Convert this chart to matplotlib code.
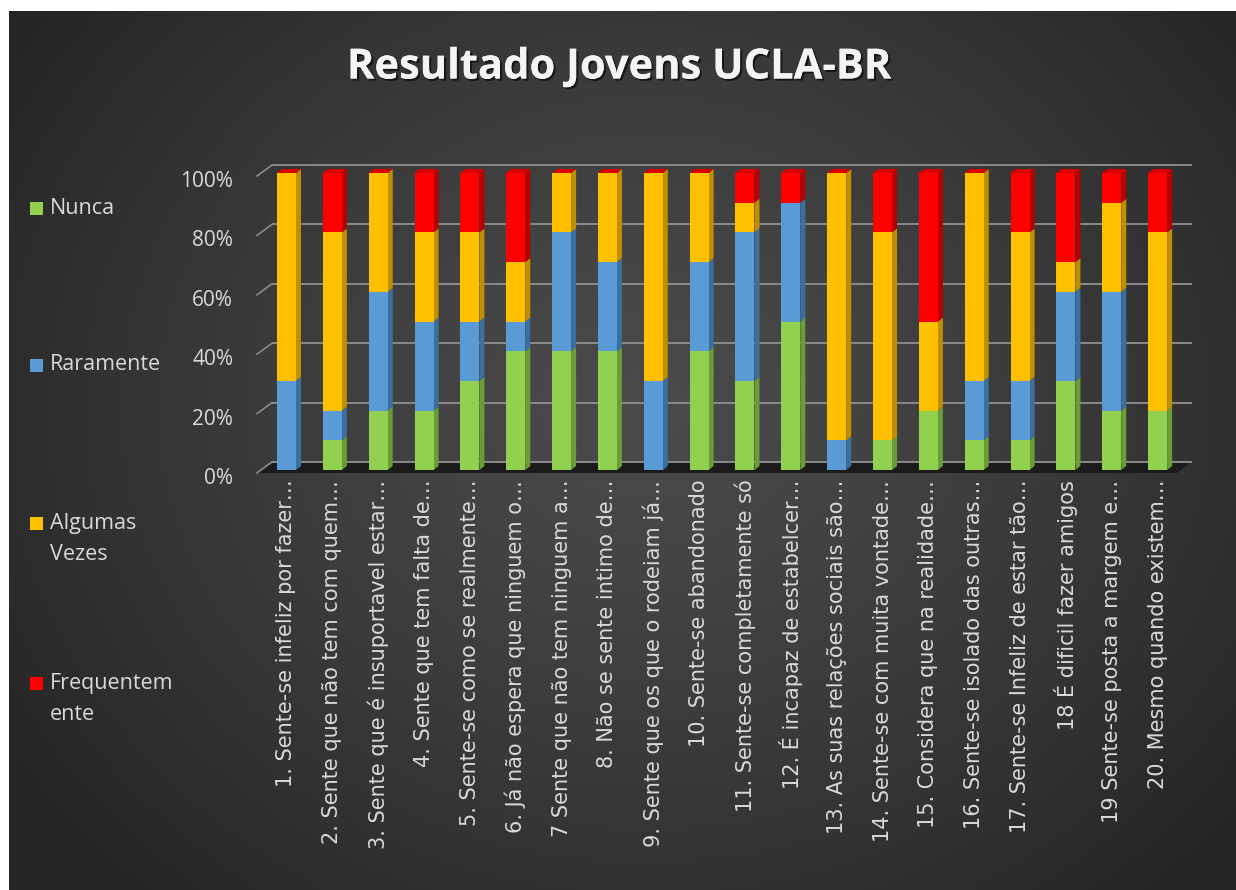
import numpy as np
import matplotlib
matplotlib.use("Agg")
import matplotlib.pyplot as plt
from matplotlib.patches import Polygon, Rectangle
import matplotlib.patheffects as pe
from matplotlib.transforms import ScaledTranslation

# ---------------- data ----------------
categories = [
    "1. Sente-se infeliz por fazer…",
    "2. Sente que não tem com quem…",
    "3. Sente que é insuportavel estar…",
    "4. Sente que tem falta de…",
    "5. Sente-se como se realmente…",
    "6. Já não espera que ninguem o…",
    "7 Sente que não tem ninguem a…",
    "8. Não se sente intimo de…",
    "9. Sente que os que o rodeiam já…",
    "10. Sente-se abandonado",
    "11. Sente-se completamente só",
    "12. É incapaz de estabelcer…",
    "13. As suas relações sociais são…",
    "14. Sente-se com muita vontade…",
    "15. Considera que na realidade…",
    "16. Sente-se isolado das outras…",
    "17. Sente-se Infeliz de estar tão…",
    "18 É dificil fazer amigos",
    "19 Sente-se posta a margem e…",
    "20. Mesmo quando existem…",
]
nunca          = [0, 10, 20, 20, 30, 40, 40, 40, 0, 40, 30, 50, 0, 10, 20, 10, 10, 30, 20, 20]
raramente      = [30, 10, 40, 30, 20, 10, 40, 30, 30, 30, 50, 40, 10, 0, 0, 20, 20, 30, 40, 0]
algumas_vezes  = [70, 60, 40, 30, 30, 20, 20, 30, 70, 30, 10, 0, 90, 70, 30, 70, 50, 10, 30, 60]
frequentemente = [0, 20, 0, 20, 20, 30, 0, 0, 0, 0, 10, 10, 0, 20, 50, 0, 20, 30, 10, 20]
series_names = ["Nunca", "Raramente", "Algumas\nVezes", "Frequentem\nente"]
y_ticks = [0, 20, 40, 60, 80, 100]
y_tick_labels = ["0%", "20%", "40%", "60%", "80%", "100%"]
title = "Resultado Jovens UCLA-BR"

series = [nunca, raramente, algumas_vezes, frequentemente]
front_colors = ["#92d050", "#5b9bd5", "#ffc000", "#ff0000"]
side_colors = ["#6a9c37", "#3b6fa0", "#c08f00", "#b80000"]
top_color = "#d80000"
text_color = "#d9d9d9"
grid_color = "#8a8a8a"

plt.rcParams['font.family'] = ['Open Sans', 'DejaVu Sans']

W, H = 1236, 890
fig = plt.figure(figsize=(W / 100, H / 100), dpi=100)
fig.patch.set_facecolor("white")

# ---------------- background panel ----------------
bg = fig.add_axes([9 / W, 0, (W - 9) / W, (H - 11) / H])
bg.set_axis_off()
yy, xx = np.mgrid[0:1:300j, 0:1:400j]
d = np.sqrt(((xx - 0.52) / 0.62) ** 2 + ((yy - 0.45) / 0.75) ** 2)
d = np.clip(d, 0, 1)
c_in = np.array([0x4a, 0x4a, 0x4a]) / 255
c_out = np.array([0x25, 0x25, 0x25]) / 255
img = c_in[None, None, :] * (1 - d[..., None] ** 1.3) + c_out[None, None, :] * (d[..., None] ** 1.3)
bg.imshow(img, extent=[0, 1, 0, 1], aspect="auto", origin="upper")
bg.set_xlim(0, 1)
bg.set_ylim(0, 1)

# ---------------- main axes (bar front plane) ----------------
ax_left_px, ax_right_px = 261, 1181
ax_bottom_px, ax_top_px = 470, 173  # image coords (from top)
ax = fig.add_axes([ax_left_px / W, (H - ax_bottom_px) / H,
                   (ax_right_px - ax_left_px) / W, (ax_bottom_px - ax_top_px) / H])
ax.patch.set_alpha(0)
xl, xr = -0.556, 19.51
ax.set_xlim(xl, xr)
ax.set_ylim(0, 100)
for s in ax.spines.values():
    s.set_visible(False)

px_x = (xr - xl) / (ax_right_px - ax_left_px)
px_y = 100.0 / (ax_bottom_px - ax_top_px)

back_dx, back_dy = 11, 8
front_dx, front_dy = -4, -3

floor = Polygon([(xl + front_dx * px_x, front_dy * px_y),
                 (xr + front_dx * px_x, front_dy * px_y),
                 (xr + back_dx * px_x, back_dy * px_y),
                 (xl + back_dx * px_x, back_dy * px_y)],
                closed=True, facecolor="#1b1b1b", edgecolor="none", zorder=1, clip_on=False)
ax.add_patch(floor)

for yv in y_ticks:
    ax.plot([xl + back_dx * px_x, xr + back_dx * px_x],
            [yv + back_dy * px_y, yv + back_dy * px_y],
            color=grid_color, lw=1.4, zorder=1.5, clip_on=False, solid_capstyle="butt")
    ax.plot([xl + front_dx * px_x, xl + back_dx * px_x],
            [yv + front_dy * px_y, yv + back_dy * px_y],
            color=grid_color, lw=1.2, zorder=1.5, clip_on=False)

x = np.arange(len(categories))
bw = 0.415
ddx, ddy = 5 * px_x, 4 * px_y
bottom = np.zeros(len(categories))
for vals, fc, sc in zip(series, front_colors, side_colors):
    vals = np.array(vals, dtype=float)
    ax.bar(x, vals, bottom=bottom, width=bw, color=fc, edgecolor="none", zorder=3)
    for xi, b, v in zip(x, bottom, vals):
        if v <= 0:
            continue
        xe = xi + bw / 2
        side = Polygon([(xe, b), (xe + ddx, b + ddy), (xe + ddx, b + v + ddy), (xe, b + v)],
                       closed=True, facecolor=sc, edgecolor="none", zorder=2.9, clip_on=False)
        ax.add_patch(side)
    bottom = bottom + vals

for xi, tot in zip(x, bottom):
    top = Polygon([(xi - bw / 2, tot), (xi + bw / 2, tot),
                   (xi + bw / 2 + ddx, tot + ddy), (xi - bw / 2 + ddx, tot + ddy)],
                  closed=True, facecolor=top_color, edgecolor="none", zorder=3.1, clip_on=False)
    ax.add_patch(top)

ax.set_yticks(y_ticks)
ax.set_yticklabels(y_tick_labels, fontsize=15, color=text_color)
ax.tick_params(axis="y", length=0, pad=20)
for lab in ax.get_yticklabels():
    lab.set_transform(lab.get_transform() + ScaledTranslation(0, -6 / 100, fig.dpi_scale_trans))

ax.set_xticks(x)
ax.set_xticklabels(categories, rotation=90, fontsize=15, color=text_color, va="top", ha="center",
                   family=["DejaVu Sans"])
ax.tick_params(axis="x", length=0, pad=7)

# ---------------- legend ----------------
leg_y = [208, 365, 523, 683]
for name, col, yc in zip(series_names, front_colors, leg_y):
    fig.patches.append(Rectangle((30 / W, (H - yc - 7) / H), 13 / W, 13 / H,
                                 transform=fig.transFigure, facecolor=col, edgecolor="none"))
    for k, line in enumerate(name.split("\n")):
        fig.text(50 / W, (H - yc - 32 * k) / H, line, fontsize=15.5, color=text_color,
                 ha="left", va="center")

# ---------------- title ----------------
fig.text(619 / W, (H - 68) / H, title, fontsize=30, fontweight="bold", color="#f4f4f4",
         ha="center", va="center",
         path_effects=[pe.withSimplePatchShadow(offset=(1.5, -1.5), shadow_rgbFace="black", alpha=0.6),
                       pe.Normal()])

fig.savefig("out.png", dpi=100, facecolor=fig.get_facecolor())
